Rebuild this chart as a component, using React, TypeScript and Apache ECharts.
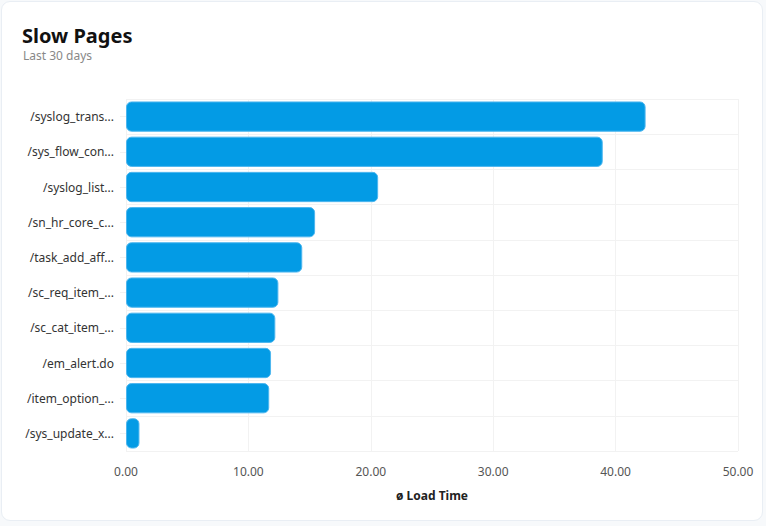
import React, { useEffect, useRef } from "react";
import * as echarts from "echarts";

const categories = [
  "/syslog_trans...",
  "/sys_flow_con...",
  "/syslog_list...",
  "/sn_hr_core_c...",
  "/task_add_aff...",
  "/sc_req_item_...",
  "/sc_cat_item_...",
  "/em_alert.do",
  "/item_option_...",
  "/sys_update_x...",
];
const loadTimes = [42.45, 38.95, 20.6, 15.45, 14.4, 12.45, 12.2, 11.85, 11.7, 1.1];
const xTicks = { min: 0, max: 50, interval: 10 };

const FONT = "'Noto Sans', sans-serif";

export default function App() {
  const ref = useRef<HTMLDivElement>(null);
  useEffect(() => {
    if (!ref.current) return;
    const chart = echarts.init(ref.current, undefined, { renderer: "svg" });
    chart.setOption({
      animation: false,
      textStyle: { fontFamily: FONT },
      title: [
        {
          text: "Slow Pages",
          left: 22,
          top: 25,
          padding: 0,
          textStyle: { fontFamily: FONT, fontSize: 20, fontWeight: "bold", color: "#111", lineHeight: 20 },
        },
        {
          text: "Last 30 days",
          left: 23,
          top: 49,
          padding: 0,
          textStyle: { fontFamily: FONT, fontSize: 12, fontWeight: "normal", color: "#888", lineHeight: 13 },
        },
      ],
      grid: { left: 126, right: 28, top: 99, bottom: 75, containLabel: false },
      xAxis: {
        type: "value",
        min: xTicks.min,
        max: xTicks.max,
        interval: xTicks.interval,
        name: "ø Load Time",
        nameLocation: "middle",
        nameGap: 38,
        nameTextStyle: { fontFamily: FONT, fontSize: 12, fontWeight: "bold", color: "#222" },
        axisLine: { show: false },
        axisTick: { show: false },
        axisLabel: {
          fontFamily: FONT,
          fontSize: 12,
          color: "#555",
          margin: 14,
          formatter: (v: number) => v.toFixed(2),
        },
        splitLine: { show: true, lineStyle: { color: "#f2f2f2", width: 1 } },
      },
      yAxis: {
        type: "category",
        data: categories,
        inverse: true,
        axisLine: { show: false },
        axisTick: { show: true, alignWithLabel: true, length: 6, lineStyle: { color: "#f2f2f2" } },
        axisLabel: { fontFamily: FONT, fontSize: 12, color: "#333", margin: 12 },
        splitLine: { show: true, lineStyle: { color: "#f2f2f2", width: 1 } },
      },
      series: [
        {
          type: "bar",
          data: loadTimes,
          barWidth: "86%",
          itemStyle: {
            color: "#039be5",
            borderColor: "#4db6ef",
            borderWidth: 1,
            borderRadius: 5,
          },
        },
      ],
    });
    return () => chart.dispose();
  }, []);
  return (
    <div style={{ position: "absolute", left: 0, top: 0, width: 766, height: 526, background: "#f7f9fb" }}>
      <div
        style={{
          position: "absolute",
          left: 1,
          top: 1,
          width: 762,
          height: 520,
          boxSizing: "border-box",
          border: "1px solid #e9eef4",
          borderRadius: 9,
          background: "#fff",
        }}
      />
      <div ref={ref} style={{ position: "absolute", left: 0, top: 0, width: 766, height: 526 }} />
    </div>
  );
}
